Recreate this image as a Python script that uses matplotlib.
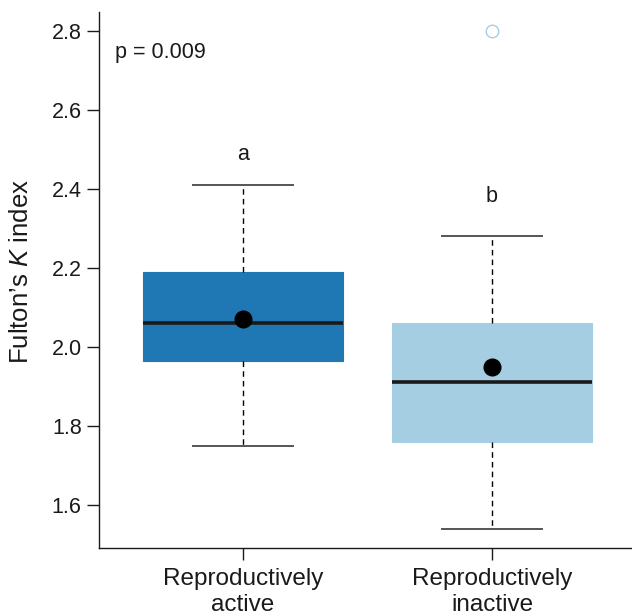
import matplotlib
matplotlib.use("Agg")
import matplotlib.pyplot as plt

plt.rcParams['font.family'] = ['Liberation Sans', 'DejaVu Sans']
plt.rcParams['mathtext.fontset'] = 'custom'
plt.rcParams['mathtext.rm'] = 'Liberation Sans'
plt.rcParams['mathtext.it'] = 'Liberation Sans:italic'

# Group summaries of Fulton's K index
groups = ["Reproductively\nactive", "Reproductively\ninactive"]
q1 = [1.964, 1.760]
medians = [2.060, 1.910]
q3 = [2.190, 2.060]
whisker_low = [1.750, 1.540]
whisker_high = [2.410, 2.280]
means = [2.070, 1.948]
outliers = [[], [2.800]]
letters = ["a", "b"]
letter_y = [2.488, 2.380]
p_text = "p = 0.009"
box_colors = ["#1f78b4", "#a6cee3"]

stats = []
for i in range(len(groups)):
    stats.append(dict(q1=q1[i], med=medians[i], q3=q3[i],
                      whislo=whisker_low[i], whishi=whisker_high[i],
                      mean=means[i], fliers=outliers[i], label=groups[i]))

fig = plt.figure(figsize=(6.32, 6.16), dpi=100)
ax = fig.add_axes([99 / 632, 68 / 616, 533 / 632, 536 / 616])

positions = [1, 2]
bp = ax.bxp(stats, positions=positions, widths=0.8, patch_artist=True,
            showmeans=True, showfliers=True,
            medianprops=dict(color="#1a1a1a", linewidth=2.6),
            whiskerprops=dict(color="black", linewidth=1.0, linestyle=(0, (4, 3))),
            capprops=dict(color="#555555", linewidth=1.4),
            meanprops=dict(marker="o", markerfacecolor="black",
                           markeredgecolor="black", markersize=12),
            capwidths=0.4)
for patch, c in zip(bp["boxes"], box_colors):
    patch.set_facecolor(c)
    patch.set_edgecolor(c)
    patch.set_linewidth(0.8)
for fl in bp["fliers"]:
    fl.set_marker("o")
    fl.set_markerfacecolor("none")
    fl.set_markeredgecolor("#a6cee3")
    fl.set_markersize(9)
    fl.set_markeredgewidth(1.0)

for x, lab, y in zip(positions, letters, letter_y):
    ax.text(x, y, lab, ha="center", va="center", fontsize=15.5, color="#1a1a1a")

ax.text(0.485, 2.745, p_text, ha="left", va="center", fontsize=15.5, color="#1a1a1a")

ax.set_xlim(0.422, 2.562)
ax.set_ylim(1.491, 2.848)
ax.set_yticks([1.6, 1.8, 2.0, 2.2, 2.4, 2.6, 2.8])
ax.set_yticklabels(["1.6", "1.8", "2.0", "2.2", "2.4", "2.6", "2.8"])
ax.set_xticks(positions)
ax.set_xticklabels(groups, fontsize=17.5, color="#1a1a1a", linespacing=1.25)

for s in ["top", "right"]:
    ax.spines[s].set_visible(False)
for s in ["left", "bottom"]:
    ax.spines[s].set_linewidth(1.0)
    ax.spines[s].set_color("#1a1a1a")

ax.tick_params(axis="y", labelsize=15.5, length=8.5, width=1.0, colors="#1a1a1a", pad=4)
ax.tick_params(axis="x", length=8.5, width=1.0, colors="#1a1a1a", pad=6)

ax.set_ylabel("Fulton\u2019s $\\mathit{K}$ index", fontsize=18.5, color="#1a1a1a")
ax.yaxis.set_label_coords(-0.124, 0.515)

fig.savefig("out.png", dpi=100)
